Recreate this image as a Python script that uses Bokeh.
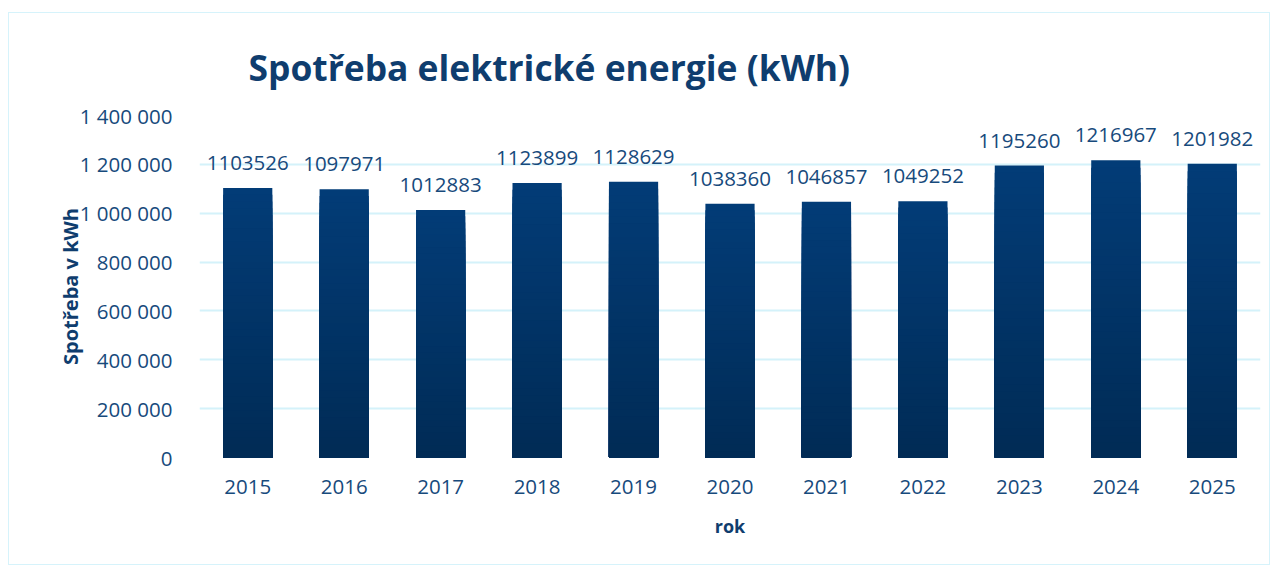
from bokeh.plotting import figure
from bokeh.models import FactorRange, Range1d, FixedTicker, ColumnDataSource, Title, LabelSet
from bokeh.core.properties import value
from bokeh.embed import file_html
from bokeh.resources import INLINE

years = ["2015", "2016", "2017", "2018", "2019", "2020", "2021", "2022", "2023", "2024", "2025"]
values = [1103526, 1097971, 1012883, 1123899, 1128629, 1038360, 1046857, 1049252, 1195260, 1216967, 1201982]
y_ticks = [0, 200000, 400000, 600000, 800000, 1000000, 1200000, 1400000]

TEXT = "#174a7c"
TITLE = "#0f3d6e"
GRID = "#d4f2fa"
FONT = "Open Sans"

p = figure(x_range=FactorRange(factors=years, range_padding=0),
           y_range=Range1d(0, 1400000),
           width=1262, height=553, output_backend="svg", toolbar_location=None,
           min_border_left=190, min_border_right=11, min_border_top=102, min_border_bottom=109)
p.margin = (12, 0, 0, 8)
p.styles = {"border": "1.5px solid #d6f3fb", "box-sizing": "border-box"}

# gradient bars: overlapping layers from full height (lighter) to short (darker)
N = 40
def hexc(c):
    return tuple(int(c[i:i + 2], 16) for i in (1, 3, 5))
c_bot = hexc("#012b55")
c_top = hexc("#023c77")
xs, tops, cols = [], [], []
for i in range(N, 0, -1):
    t = (i - 0.5) / N
    col = "#%02x%02x%02x" % tuple(int(round(c_bot[k] + (c_top[k] - c_bot[k]) * t)) for k in range(3))
    for y, v in zip(years, values):
        xs.append(y)
        tops.append(v * i / N)
        cols.append(col)
p.vbar(x=xs, bottom=0, top=tops, width=0.51, fill_color=cols, line_color=None)

src = ColumnDataSource(dict(x=years, v=values, t=[str(v) for v in values]))
labels = LabelSet(x="x", y="v", text="t", source=src, text_align="center", text_baseline="bottom",
                  y_offset=18, text_font=value(FONT), text_font_size="20.5px", text_color=TEXT)
p.add_layout(labels)

p.title = Title(text="Spotřeba elektrické energie (kWh)", text_font=FONT, text_font_size="35.4px",
                text_font_style="bold", text_color=TITLE, align="left", offset=49, standoff=45,
                vertical_align="top")

p.xaxis.axis_label = "rok"
p.yaxis.axis_label = "Spotřeba v kWh"
for ax in (p.xaxis, p.yaxis):
    ax.axis_label_text_font = FONT
    ax.axis_label_text_font_style = "bold"
    ax.axis_label_text_color = TITLE
    ax.axis_label_text_font_size = "18px"
    ax.major_label_text_font = FONT
    ax.major_label_text_font_size = "20.5px"
    ax.major_label_text_color = TEXT
    ax.axis_line_color = None
    ax.major_tick_line_color = None
    ax.minor_tick_line_color = None
p.yaxis.axis_label_text_font_size = "20px"
p.xaxis.major_label_standoff = 16
p.xaxis.axis_label_standoff = 17
p.yaxis.major_label_standoff = 21
p.yaxis.axis_label_standoff = -7
p.yaxis.ticker = FixedTicker(ticks=y_ticks)
p.yaxis.major_label_overrides = {t: f"{t:,}".replace(",", " ") for t in y_ticks}

p.xgrid.grid_line_color = None
p.ygrid.grid_line_color = GRID
p.ygrid.grid_line_width = 2
p.outline_line_color = None

open("out.html", "w").write(file_html(p, INLINE))
